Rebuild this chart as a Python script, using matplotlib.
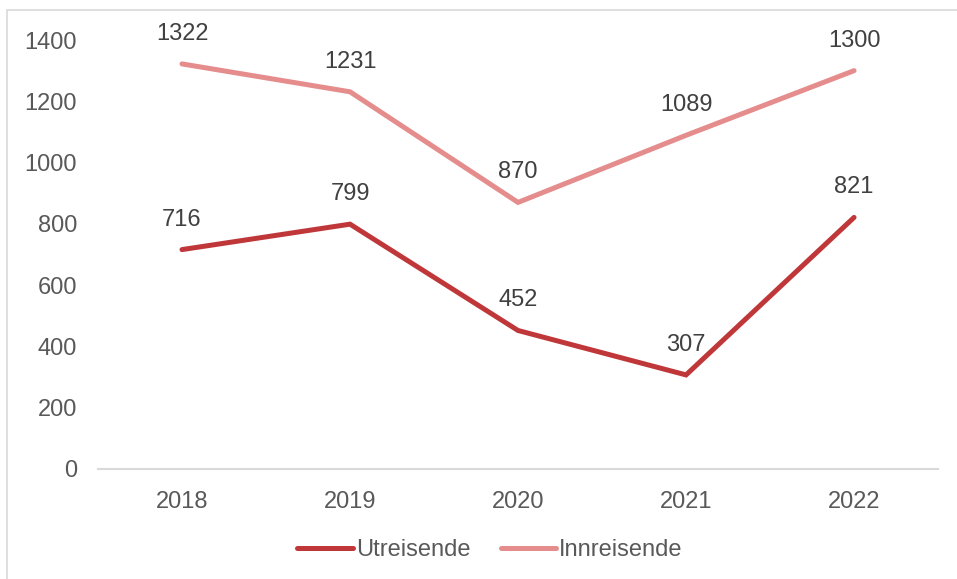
import matplotlib
matplotlib.use("Agg")
import matplotlib.pyplot as plt
from matplotlib.patches import Rectangle

# data
years = ["2018", "2019", "2020", "2021", "2022"]
utreisende = [716, 799, 452, 307, 821]
innreisende = [1322, 1231, 870, 1089, 1300]

plt.rcParams['font.family'] = ['Liberation Sans', 'DejaVu Sans']

fig = plt.figure(figsize=(9.57, 5.79), dpi=100)
ax = fig.add_axes([0.1024, 0.19, 0.8778, 0.7409])

# light frame round the chart area (cut off at right/bottom in the reference)
fig.patches.append(Rectangle((7 / 957, -0.1), 1.2, 1 - 10 / 579 + 0.1,
                             transform=fig.transFigure, fill=False,
                             edgecolor='#D9D9D9', linewidth=1.2))

x = list(range(len(years)))
ax.plot(x, utreisende, color='#C0373A', linewidth=3.6, label='Utreisende',
        solid_capstyle='round', solid_joinstyle='miter')
ax.plot(x, innreisende, color='#E58C8C', linewidth=3.6, label='Innreisende',
        solid_capstyle='round', solid_joinstyle='miter')

for series in (utreisende, innreisende):
    for xi, v in zip(x, series):
        ax.annotate(str(v), (xi, v), xytext=(0, 30), textcoords='offset pixels',
                    ha='center', va='center', fontsize=17, color='#404040')

ax.set_xlim(-0.5, len(years) - 0.5)
ax.set_ylim(0, 1400)
ax.set_yticks(range(0, 1401, 200))
ax.set_xticks(x)
ax.set_xticklabels(years)

for side in ('top', 'right', 'left'):
    ax.spines[side].set_visible(False)
ax.spines['bottom'].set_color('#D9D9D9')
ax.spines['bottom'].set_linewidth(1.5)
ax.tick_params(axis='both', length=0, labelsize=17, labelcolor='#595959')
ax.tick_params(axis='y', pad=15)
ax.tick_params(axis='x', pad=15.5)

leg = fig.legend(loc='center', bbox_to_anchor=(0.512, 0.05), ncol=2, frameon=False,
                 fontsize=17, handlelength=2.35, handletextpad=0.12, columnspacing=1.3)
for t in leg.get_texts():
    t.set_color('#595959')

fig.savefig('out.png', dpi=100)
